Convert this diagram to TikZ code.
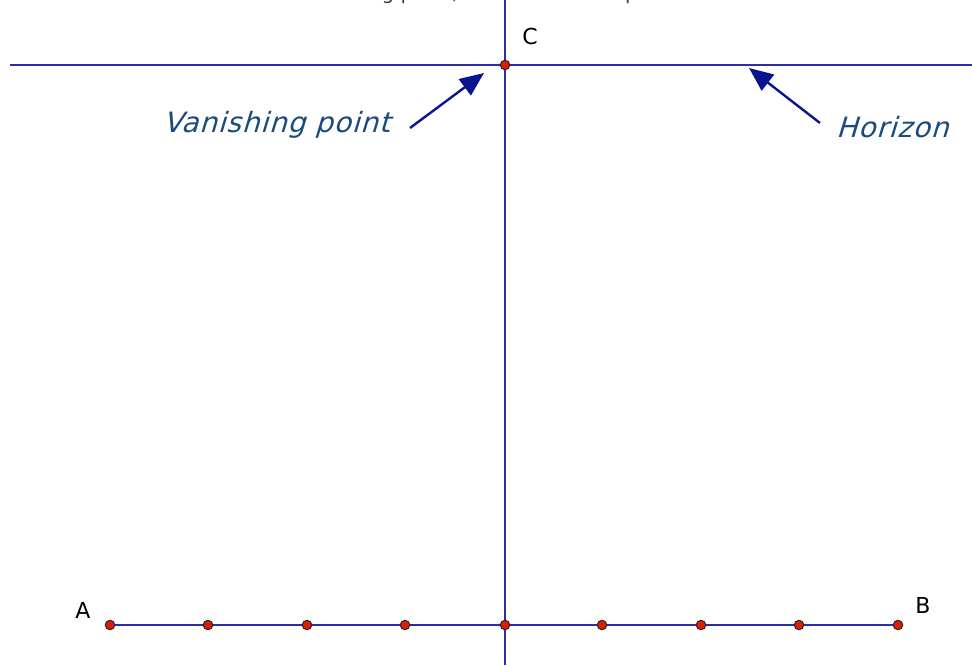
\documentclass[tikz,border=0pt]{standalone}
\usepackage{fontspec}
\setmainfont{DejaVu Sans}
\newfontfamily\handfont{DejaVu Sans}[FakeSlant=0.3]
\usetikzlibrary{arrows.meta}
\definecolor{lineblue}{RGB}{45,45,170}
\definecolor{arrowblue}{RGB}{10,20,140}
\definecolor{handblue}{RGB}{25,75,125}
\definecolor{dotred}{RGB}{220,30,0}
\tikzset{
  x=1pt,y=-1pt,
  geoline/.style={draw=lineblue,line width=2.2pt},
  dot/.style={circle,fill=dotred,draw=black!85,line width=1pt,inner sep=0pt,minimum size=9.5pt},
  ptlabel/.style={font=\fontsize{22}{26}\selectfont,text=black,inner sep=0pt},
  hand/.style={font=\handfont\fontsize{28}{32}\selectfont\addfontfeature{LetterSpace=3},text=handblue,inner sep=0pt},
  pointer/.style={draw=arrowblue,line width=2.4pt,-{Triangle[length=24pt,width=20pt]}}
}
\begin{document}
\begin{tikzpicture}
\useasboundingbox (0,0) rectangle (972,665);
\begin{scope}
\clip (0,0) rectangle (972,665);
\node[anchor=base west,font=\fontsize{20}{24}\selectfont,text=black!75,inner sep=0pt] (toptext) at (40,-1) {In this case we can use a vanishing point, here is an example of it:};
\end{scope}
% lines
\coordinate (hL) at (10,65);
\coordinate (hR) at (972,65);
\coordinate (vT) at (505,0);
\coordinate (vB) at (505,665);
\path[geoline] (hL) -- (hR);
\path[geoline] (vT) -- (vB);
% bottom points
\coordinate (a0) at (110,625);
\coordinate (b0) at (898,625);
\path[geoline] (a0) -- (b0);
\node[dot] (A) at (110,625) {};
\node[dot] (p1) at (208,625) {};
\node[dot] (p2) at (307,625) {};
\node[dot] (p3) at (405,625) {};
\node[dot] (p4) at (505,625) {};
\node[dot] (p5) at (602,625) {};
\node[dot] (p6) at (701,625) {};
\node[dot] (p7) at (799,625) {};
\node[dot] (B) at (898,625) {};
\node[dot] (C) at (505,65) {};
% labels
\node[ptlabel] (lC) at (530,36) {C};
\node[ptlabel] (lA) at (83,610) {A};
\node[ptlabel] (lB) at (923,605) {B};
% handwritten annotations
\node[hand,anchor=west] (vp) at (163,125) {Vanishing point};
\node[hand,anchor=west] (hz) at (836,127) {Horizon};
\coordinate (vpTail) at (410,128);
\coordinate (vpHead) at (484,73);
\coordinate (hzTail) at (820,123);
\coordinate (hzHead) at (749,68);
\path[pointer] (vpTail) -- (vpHead);
\path[pointer] (hzTail) -- (hzHead);
\end{tikzpicture}
\end{document}
